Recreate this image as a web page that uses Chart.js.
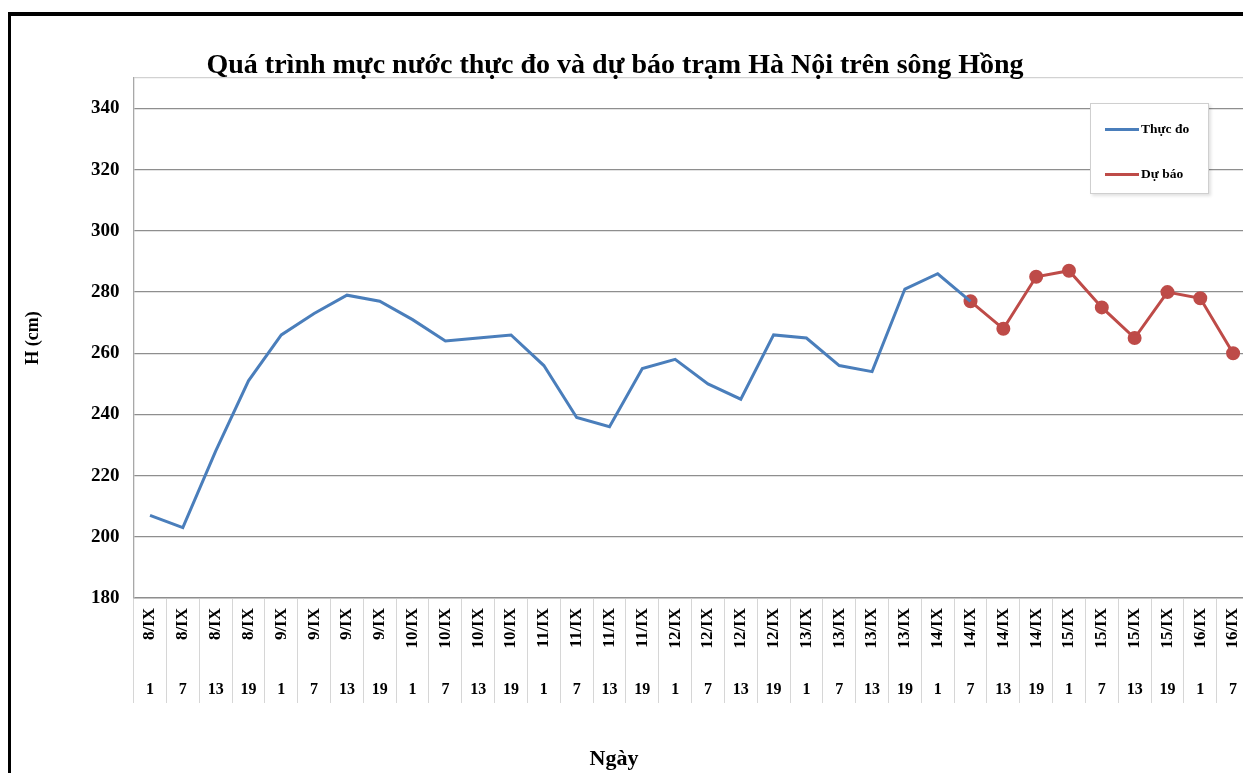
<!DOCTYPE html>
<html>
<head>
<meta charset="utf-8">
<script src="https://cdn.jsdelivr.net/npm/chart.js@4.4.1/dist/chart.umd.min.js"></script>
<style>
    html, body { margin: 0; padding: 0; width: 1243px; height: 773px; overflow: hidden; background: #fff; }
    #frame { position: absolute; left: 8px; top: 12px; width: 1300px; height: 800px; border-left: 3px solid #000; border-top: 4px solid #000; }
    #chart { position: absolute; left: 0; top: 0; }
    #title { position: absolute; left: 0; top: 48px; width: 1230px; text-align: center; line-height: 30px;
             font: bold 28px "Liberation Serif", "Times New Roman", serif; color: #000; }
    #xtitle { position: absolute; left: 0; top: 745px; width: 1228px; text-align: center; line-height: 28px;
              font: bold 22px "Liberation Serif", "Times New Roman", serif; color: #000; }
    #legend { position: absolute; left: 1090px; top: 103px; width: 117px; height: 89px; background: #fff;
              border: 1px solid #cfcfcf; box-shadow: 2px 2px 3px rgba(0,0,0,0.12);
              font: bold 13.5px "Liberation Serif", "Times New Roman", serif; color: #000; }
    .item { position: absolute; left: 14px; height: 14px; line-height: 14px; white-space: nowrap; }
    .item span { display: inline-block; width: 34px; height: 3px; vertical-align: middle; margin-right: 2px; }
</style>
</head>
<body>
<div id="frame"></div>
<canvas id="chart" width="1258" height="773"></canvas>
<div id="title">Quá trình mực nước thực đo và dự báo trạm Hà Nội trên sông Hồng</div>
<div id="xtitle">Ngày</div>
<div id="legend">
    <div class="item" style="top:18px"><span style="background:#4A7EBB"></span>Thực đo</div>
    <div class="item" style="top:63px"><span style="background:#BE4B48"></span>Dự báo</div>
</div>
<script>
// categories (day / hour)
const dates = ['8/IX', '8/IX', '8/IX', '8/IX', '9/IX', '9/IX', '9/IX', '9/IX',
    '10/IX', '10/IX', '10/IX', '10/IX', '11/IX', '11/IX', '11/IX', '11/IX',
    '12/IX', '12/IX', '12/IX', '12/IX', '13/IX', '13/IX', '13/IX', '13/IX',
    '14/IX', '14/IX', '14/IX', '14/IX', '15/IX', '15/IX', '15/IX', '15/IX',
    '16/IX', '16/IX'];
const hours = ['1', '7', '13', '19', '1', '7', '13', '19',
    '1', '7', '13', '19', '1', '7', '13', '19',
    '1', '7', '13', '19', '1', '7', '13', '19',
    '1', '7', '13', '19', '1', '7', '13', '19',
    '1', '7'];

// water level H (cm)
const observed = [207, 203, 228, 251, 266, 273, 279, 277,
    271, 264, 265, 266, 256, 239, 236, 255,
    258, 250, 245, 266, 265, 256, 254, 281,
    286, 277, null, null, null, null, null, null,
    null, null];
const forecast = [null, null, null, null, null, null, null, null,
    null, null, null, null, null, null, null, null,
    null, null, null, null, null, null, null, null,
    null, 277, 268, 285, 287, 275, 265, 280,
    278, 260];

const yTicks = [180, 200, 220, 240, 260, 280, 300, 320, 340];

const serif = '"Liberation Serif", "Times New Roman", serif';

new Chart(document.getElementById('chart'), {
    type: 'line',
    data: {
        labels: dates,
        datasets: [
            {
                label: 'Thực đo',
                data: observed,
                borderColor: '#4A7EBB',
                backgroundColor: '#4A7EBB',
                borderWidth: 3,
                pointRadius: 0,
                tension: 0
            },
            {
                label: 'Dự báo',
                data: forecast,
                borderColor: '#BE4B48',
                backgroundColor: '#BE4B48',
                borderWidth: 3,
                pointRadius: 5.5,
                pointBackgroundColor: '#BE4B48',
                pointBorderColor: '#BE4B48',
                tension: 0
            }
        ]
    },
    options: {
        responsive: false,
        animation: false,
        layout: { padding: { top: 78, right: 1, left: 0, bottom: 0 } },
        plugins: {
            legend: { display: false },
            title: { display: false },
            tooltip: { enabled: false }
        },
        scales: {
            y: {
                min: 180,
                max: 350,
                afterBuildTicks: (scale) => {
                    scale.ticks = yTicks.map(v => ({ value: v })).concat([{ value: 350 }]);
                },
                afterFit: (scale) => { scale.width = 133.6; },
                ticks: {
                    color: '#000',
                    padding: 14,
                    font: { family: serif, size: 19, weight: 'bold' },
                    callback: (v) => (v === 350 ? '' : v)
                },
                grid: {
                    drawTicks: false,
                    lineWidth: 1.3,
                    color: (ctx) => (ctx.tick && ctx.tick.value === 350 ? '#d2d2d2' : '#8e8e8e')
                },
                border: { color: '#a8a8a8', width: 1.3 },
                title: {
                    display: true,
                    text: 'H (cm)',
                    color: '#000',
                    font: { family: serif, size: 18, weight: 'bold' },
                    padding: { top: 23, bottom: 0 }
                }
            },
            x: {
                type: 'category',
                offset: true,
                afterFit: (scale) => { scale.height = 62; },
                ticks: {
                    autoSkip: false,
                    minRotation: 90,
                    maxRotation: 90,
                    color: '#000',
                    padding: -95,
                    font: { family: serif, size: 17, weight: 'bold' }
                },
                grid: {
                    offset: true,
                    drawOnChartArea: false,
                    tickLength: 105,
                    color: '#d6d6d6'
                },
                border: { color: '#c4c4c4' }
            },
            x2: {
                type: 'category',
                position: 'bottom',
                labels: hours,
                offset: true,
                afterFit: (scale) => { scale.height = 113; },
                ticks: {
                    autoSkip: false,
                    maxRotation: 0,
                    color: '#000',
                    padding: 12,
                    font: { family: serif, size: 16, weight: 'bold' }
                },
                grid: { display: false },
                border: { display: false }
            }
        }
    }
});
</script>
</body>
</html>
